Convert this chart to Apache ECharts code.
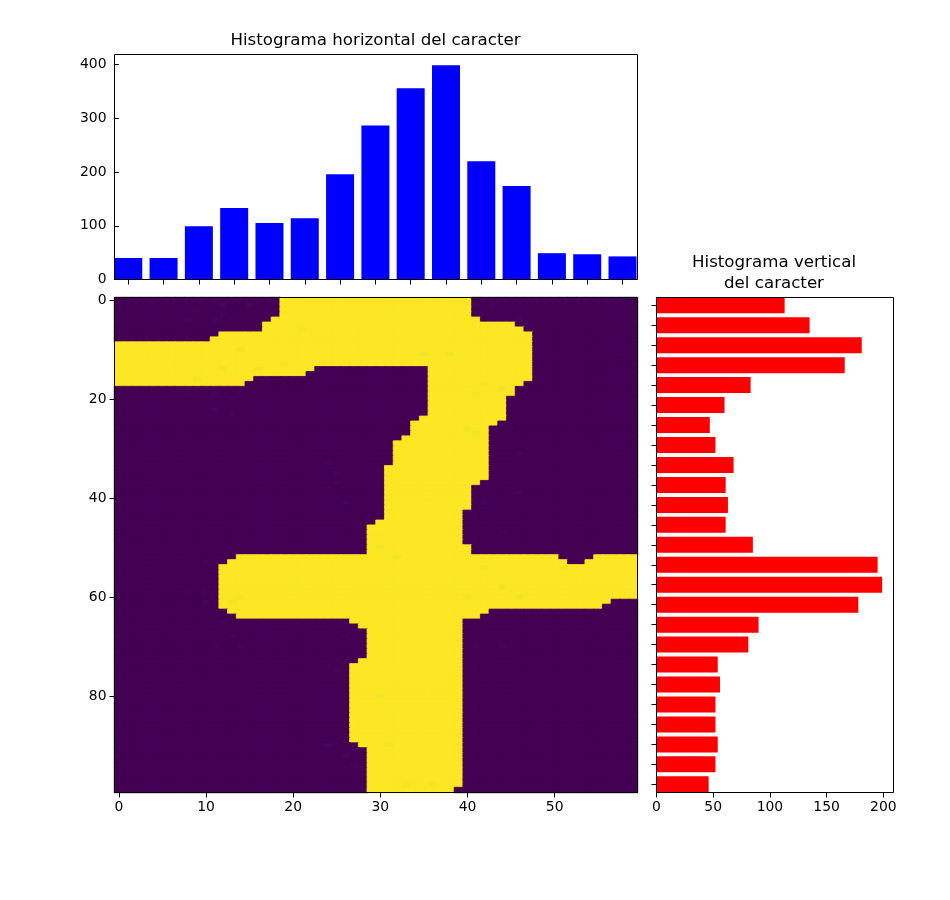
<!DOCTYPE html>
<html>
<head>
<meta charset="utf-8">
<script src="https://cdn.jsdelivr.net/npm/echarts@6/dist/echarts.min.js"></script>
<style>html,body{margin:0;padding:0;background:#fff}#c{width:950px;height:900px}</style>
</head>
<body>
<div id="c"></div>
<script>
const titleTop = "Histograma horizontal del caracter";
const titleRight = "Histograma vertical\ndel caracter";

const horizontalBinCenters = [1.08,5.13,9.18,13.23,17.28,21.33,25.38,29.43,33.48,37.53,41.58,45.63,49.68,53.73,57.78];
const horizontalCounts = [40,40,99,133,105,114,196,287,356,399,220,174,49,47,43];
const horizontalTicks = [0,100,200,300,400];

const verticalBins = Array.from({length:25},(_,i)=>String(i));
const verticalCounts = [113,135,181,166,83,60,47,52,68,61,63,61,85,195,199,178,90,81,54,56,52,52,54,52,46];
const verticalTicks = [0,50,100,150,200];

const imageCols = 60;
const imageRows = 100;
// [first row, last row, [[col start, col end), ...]] : bright runs
const brightRuns = [
 [0,3,[[19,41]]],[4,4,[[18,42]]],[5,5,[[17,46]]],[6,6,[[17,47]]],[7,7,[[12,48]]],[8,8,[[11,48]]],
 [9,13,[[0,48]]],[14,14,[[0,23],[36,48]]],[15,15,[[0,22],[36,48]]],[16,16,[[0,16],[36,48]]],
 [17,17,[[0,15],[36,47]]],[18,19,[[36,46]]],[20,23,[[36,45]]],[24,24,[[35,45]]],[25,25,[[34,44]]],
 [26,27,[[34,43]]],[28,28,[[33,43]]],[29,33,[[32,43]]],[34,36,[[31,43]]],[37,37,[[31,42]]],
 [38,42,[[31,41]]],[43,44,[[31,40]]],[45,45,[[30,40]]],[46,49,[[29,40]]],[50,51,[[29,41]]],
 [52,52,[[14,51],[55,60]]],[53,53,[[13,52],[54,60]]],[54,60,[[12,60]]],[61,61,[[12,57]]],[62,62,[[12,56]]],
 [63,63,[[13,43]]],[64,64,[[14,42]]],[65,65,[[27,40]]],[66,66,[[28,40]]],[67,72,[[29,40]]],
 [73,73,[[28,40]]],[74,89,[[27,40]]],[90,90,[[28,40]]],[91,98,[[29,40]]],[99,99,[[29,39]]]
];
// [row, col] of slightly lighter background cells and slightly darker bright cells
const faintDarkCells = [[1,12],[2,9],[3,12],[4,11],[4,8],[1,15],[1,43],[1,41],[4,46],[18,9],[19,8],[19,11],[20,13],[22,11],[23,13],[26,45],[31,46],[33,24],[35,25],[37,25],[39,46],[41,26],[41,42],[47,44],[53,10],[58,12],[59,8],[59,10],[61,10],[65,12],[68,26],[65,43],[68,13],[70,14],[70,11],[74,24],[70,41],[70,44],[90,24],[75,25],[92,26],[94,27]];
const faintBrightCells = [[10,14],[14,12],[16,9],[13,19],[14,16],[6,21],[11,35],[11,38],[17,42],[19,41],[18,44],[27,41],[26,40],[50,30],[52,32],[58,44],[60,40],[60,46],[61,13],[60,14],[54,51],[54,42],[80,30],[90,31],[98,33],[98,36]];

const viridis = ['#440154','#482878','#3e4989','#31688e','#26828e','#1f9e89','#35b779','#6ece58','#b5de2b','#fde725'];
const font = '"DejaVu Sans"';

const image = Array.from({length:imageRows},()=>new Array(imageCols).fill(0));
brightRuns.forEach(([r0,r1,segs])=>{
  for(let r=r0;r<=r1;r++) segs.forEach(([a,b])=>{ for(let c=a;c<b;c++) image[r][c]=1; });
});
faintDarkCells.forEach(([r,c])=>{ if(image[r][c]===0) image[r][c]=0.012; });
faintBrightCells.forEach(([r,c])=>{ if(image[r][c]===1) image[r][c]=0.98; });
const imageData = [];
image.forEach((row,r)=>row.forEach((v,c)=>imageData.push({
  value:[c,r,v],
  // same colour as the cell: closes the hairline seams between fractional cell edges
  itemStyle:{borderColor:v<0.5?viridis[0]:viridis[9],borderWidth:0.8}
})));

const tick = {show:true,length:5,inside:false,lineStyle:{color:'#000',width:1}};
const label = {color:'#000',fontFamily:font,fontSize:13.9};
const yLabel = Object.assign({padding:[2,0,0,0]},label);
const noLine = {show:false};
const frame = {show:true,borderColor:'#000',borderWidth:1,z:20};
const titleStyle = {fontFamily:font,fontSize:16.67,fontWeight:'normal',color:'#000',lineHeight:21};

const chart = echarts.init(document.getElementById('c'),null,{renderer:'canvas'});
chart.setOption({
  animation:false,
  backgroundColor:'#fff',
  title:[
    {text:titleTop,left:375.5,top:30,padding:0,textAlign:'center',textStyle:titleStyle},
    {text:titleRight,left:774,top:252,padding:0,textAlign:'center',textStyle:titleStyle}
  ],
  grid:[
    Object.assign({left:114.5,top:54.5,width:523,height:225},frame),
    {left:114.5,top:297.5,width:523,height:495,show:true,borderWidth:0,backgroundColor:'#440154'},
    {left:656.5,top:295.3,width:237,height:499},
    Object.assign({left:656.5,top:297.5,width:237,height:495},frame),
    Object.assign({left:114.5,top:297.5,width:523,height:495},frame)
  ],
  visualMap:{show:false,min:0,max:1,seriesIndex:0,inRange:{color:viridis}},
  xAxis:[
    {gridIndex:0,type:'value',min:-0.5,max:59.5,splitLine:{show:false},axisLine:noLine,
     axisTick:Object.assign({customValues:horizontalBinCenters},tick),axisLabel:{show:false}},
    {gridIndex:1,type:'category',data:Array.from({length:imageCols},(_,i)=>String(i)),axisLine:noLine,splitLine:{show:false},
     axisTick:Object.assign({interval:9,alignWithLabel:true},tick),axisLabel:Object.assign({interval:9,margin:8},label)},
    {gridIndex:2,type:'value',min:0,max:209,show:false},
    {gridIndex:3,type:'value',min:0,max:209,splitLine:{show:false},axisLine:noLine,
     axisTick:Object.assign({customValues:verticalTicks},tick),axisLabel:Object.assign({customValues:verticalTicks,margin:8},label)},
    {gridIndex:4,type:'value',show:false,min:0,max:1}
  ],
  yAxis:[
    {gridIndex:0,type:'value',min:0,max:419,splitLine:{show:false},axisLine:noLine,
     axisTick:Object.assign({customValues:horizontalTicks},tick),axisLabel:Object.assign({customValues:horizontalTicks,margin:8},yLabel)},
    {gridIndex:1,type:'category',inverse:true,data:Array.from({length:imageRows},(_,i)=>String(i)),axisLine:noLine,splitLine:{show:false},
     axisTick:Object.assign({interval:19,alignWithLabel:true},tick),axisLabel:Object.assign({interval:19,margin:8},yLabel)},
    {gridIndex:2,type:'category',inverse:true,data:verticalBins,axisLine:noLine,splitLine:{show:false},
     axisTick:Object.assign({alignWithLabel:true,interval:0},tick),axisLabel:{show:false}},
    {gridIndex:3,type:'value',show:false,min:0,max:1},
    {gridIndex:4,type:'value',show:false,min:0,max:1}
  ],
  series:[
    {type:'heatmap',xAxisIndex:1,yAxisIndex:1,data:imageData,progressive:0,emphasis:{disabled:true},silent:true},
    {type:'bar',xAxisIndex:0,yAxisIndex:0,barWidth:28,itemStyle:{color:'#0000ff'},
     data:horizontalBinCenters.map((x,i)=>[x,horizontalCounts[i]])},
    {type:'bar',xAxisIndex:2,yAxisIndex:2,barWidth:16,itemStyle:{color:'#ff0000'},data:verticalCounts}
  ]
});
</script>
</body>
</html>
